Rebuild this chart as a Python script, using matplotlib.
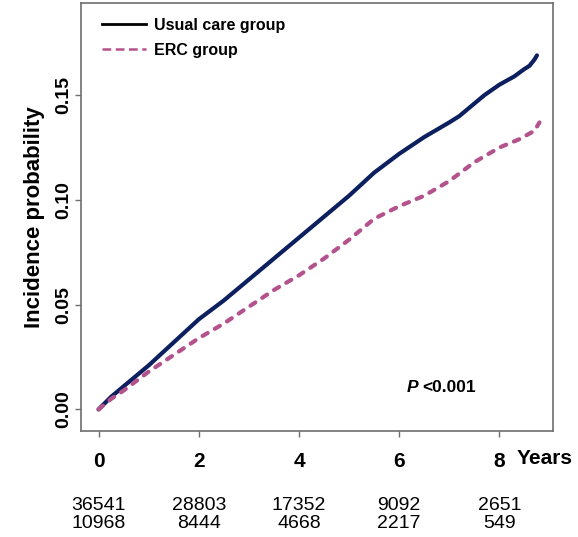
import matplotlib
matplotlib.use("Agg")
import matplotlib.pyplot as plt
from matplotlib.lines import Line2D
from matplotlib.transforms import blended_transform_factory

plt.rcParams['font.family'] = ['Liberation Sans', 'DejaVu Sans']

# data
years_usual = [0, 0.25, 0.5, 1.0, 1.5, 2.0, 2.5, 3.0, 3.5, 4.0, 4.5, 5.0, 5.5,
               6.0, 6.5, 7.0, 7.2, 7.4, 7.7, 8.0, 8.3, 8.5, 8.6, 8.7, 8.75]
inc_usual = [0, 0.006, 0.011, 0.021, 0.032, 0.043, 0.052, 0.062, 0.072, 0.082,
             0.092, 0.102, 0.113, 0.122, 0.130, 0.137, 0.140, 0.144, 0.150,
             0.155, 0.159, 0.1625, 0.164, 0.167, 0.169]

years_erc = [0, 0.25, 0.5, 1.0, 1.5, 2.0, 2.5, 3.0, 3.5, 4.0, 4.5, 5.0, 5.5,
             6.0, 6.5, 7.0, 7.5, 8.0, 8.4, 8.7, 8.8]
inc_erc = [0, 0.005, 0.009, 0.018, 0.026, 0.034, 0.041, 0.049, 0.057, 0.064,
           0.072, 0.081, 0.091, 0.097, 0.102, 0.109, 0.118, 0.125, 0.129,
           0.133, 0.137]

x_ticks = [0, 2, 4, 6, 8]
y_ticks = [0.00, 0.05, 0.10, 0.15]
y_tick_labels = ['0.00', '0.05', '0.10', '0.15']
risk_usual = ['36541', '28803', '17352', '9092', '2651']
risk_erc = ['10968', '8444', '4668', '2217', '549']

navy = '#0c1f5e'
pink = '#b3528c'
grey = '#6e6e6e'

fig = plt.figure(figsize=(5.78, 5.37), dpi=100)
ax = fig.add_axes([81 / 578, 1 - 431 / 537, 472 / 578, 428 / 537])

ax.plot(years_usual, inc_usual, color=navy, lw=3.0, solid_capstyle='round',
        solid_joinstyle='round')
ax.plot(years_erc, inc_erc, color=pink, lw=3.0, linestyle=(0, (1.4, 2.0)),
        dash_capstyle='round')

ax.set_xlim(-0.35, 9.07)
ax.set_ylim(-0.0103, 0.194)

for s in ax.spines.values():
    s.set_color(grey)
    s.set_linewidth(1.2)

ax.set_xticks(x_ticks)
ax.set_xticklabels([str(t) for t in x_ticks], fontsize=15, fontweight='bold')
ax.set_yticks(y_ticks)
ax.set_yticklabels(y_tick_labels, fontsize=14, fontweight='bold',
                   rotation=90, va='center')
ax.tick_params(axis='x', length=4, width=1.0, color=grey, pad=11)
ax.tick_params(axis='y', length=4, width=1.0, color=grey, pad=2)

ax.set_ylabel('Incidence probability', fontsize=16, fontweight='bold',
              labelpad=8)

# legend
handles = [Line2D([], [], color='black', lw=2.0),
           Line2D([], [], color=pink, lw=1.8, linestyle=(0, (3.5, 1.8)))]
ax.legend(handles, ['Usual care group', 'ERC group'], loc='upper left',
          bbox_to_anchor=(0.044, 0.965), frameon=False, borderpad=0,
          borderaxespad=0, handlelength=2.8, handletextpad=0.45,
          labelspacing=0.6, prop={'size': 11.5, 'weight': 'bold'})

# p value
ax.text(6.14, 0.0107, 'P', fontsize=12.5, ha='left', va='center',
        fontweight='bold', style='italic')
ax.text(6.46, 0.0107, '<0.001', fontsize=12.5, ha='left', va='center',
        fontweight='bold')

# years label and numbers at risk
tr = blended_transform_factory(ax.transData, fig.transFigure)
ax.text(8.35, 1 - 459 / 537, 'Years', transform=tr, fontsize=15,
        fontweight='bold', ha='left', va='center')
for x, a, b in zip(x_ticks, risk_usual, risk_erc):
    ax.text(x, 1 - 506 / 537, a, transform=tr, fontsize=14, ha='center',
            va='center')
    ax.text(x, 1 - 523.5 / 537, b, transform=tr, fontsize=14, ha='center',
            va='center')

fig.savefig('out.png', dpi=100)
